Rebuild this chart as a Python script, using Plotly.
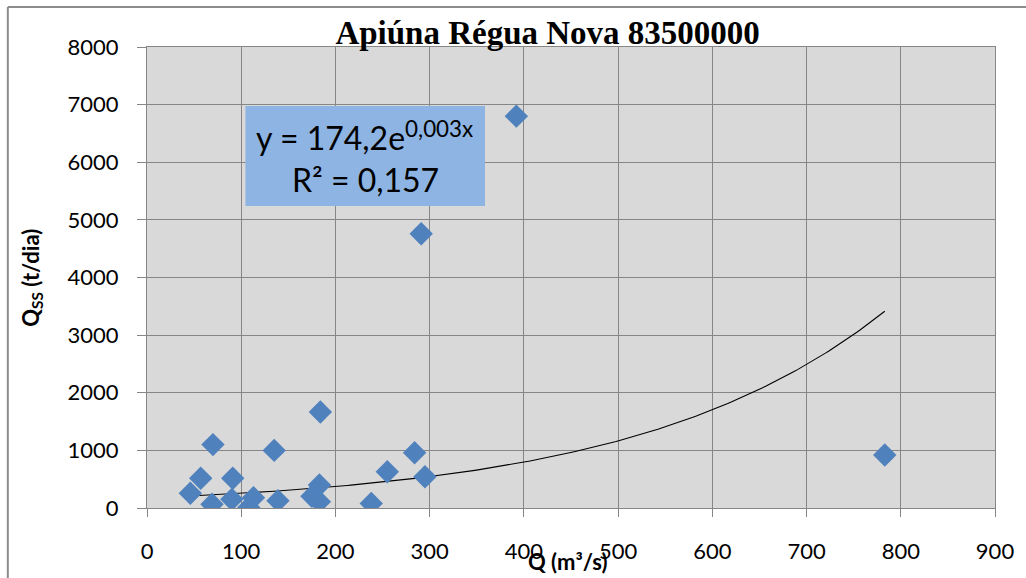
import numpy as np
import plotly.graph_objects as go

# Vazão líquida Q (m³/s) e descarga sólida em suspensão Qss (t/dia)
vazao = [46, 57, 70, 69, 91, 90, 135, 113, 108, 139, 184, 183, 175, 183,
         238, 255, 284, 295, 291, 392, 783]
qss = [255, 515, 1100, 64, 515, 150, 1000, 180, 10, 127, 1665, 400, 205, 110,
       80, 630, 960, 543, 4760, 6800, 920]

# Linha de tendência exponencial y = a·e^(b·x)
TREND_A = 174.2
TREND_B = 0.0038

x_ticks = [0, 100, 200, 300, 400, 500, 600, 700, 800, 900]
y_ticks = [0, 1000, 2000, 3000, 4000, 5000, 6000, 7000, 8000]

titulo = "Apiúna Régua Nova 83500000"
eq_linha1 = "y = 174,2e<sup>0,003x</sup>"
eq_linha2 = "R² = 0,157"

W, H = 1026, 578
ML, MR, MT, MB = 147, 26, 47, 70
PW, PH = W - ML - MR, H - MT - MB


def px(x):
    return (x - ML) / PW


def py(y):
    return (H - MB - y) / PH


xt = np.linspace(min(vazao), max(vazao), 200)
yt = TREND_A * np.exp(TREND_B * xt)

fig = go.Figure()
fig.add_trace(go.Scatter(
    x=xt, y=yt, mode="lines",
    line=dict(color="black", width=1.1),
    hoverinfo="skip", showlegend=False,
))
fig.add_trace(go.Scatter(
    x=vazao, y=qss, mode="markers",
    marker=dict(symbol="diamond", size=18, color="#4F81BD"),
    showlegend=False,
))

grid = "#868686"
tick_font = dict(family="Lato, Liberation Sans, sans-serif", size=22, color="black")

fig.update_layout(
    width=W, height=H,
    margin=dict(l=ML, r=MR, t=MT, b=MB),
    paper_bgcolor="white",
    plot_bgcolor="#D9D9D9",
    title=dict(
        text=f"<b>{titulo}</b>",
        x=px(550), xanchor="center", xref="paper",
        y=1 - 32 / H, yanchor="middle", yref="container",
        font=dict(family="Liberation Serif, Times New Roman, serif", size=33, color="black"),
    ),
    xaxis=dict(
        range=[0, 900], tickvals=x_ticks, ticktext=[str(v) for v in x_ticks],
        showgrid=True, gridcolor=grid, gridwidth=1,
        showline=True, linecolor=grid, linewidth=1, mirror=True,
        ticks="outside", ticklen=8, tickcolor=grid,
        ticklabelstandoff=16,
        tickfont=tick_font, zeroline=False,
    ),
    yaxis=dict(
        range=[0, 8000], tickvals=y_ticks, ticktext=[str(v) for v in y_ticks],
        showgrid=True, gridcolor=grid, gridwidth=1,
        showline=True, linecolor=grid, linewidth=1, mirror=True,
        ticks="outside", ticklen=9, tickcolor=grid,
        ticklabelstandoff=14,
        tickfont=tick_font, zeroline=False,
    ),
    shapes=[
        # caixa da equação
        dict(type="rect", xref="paper", yref="paper",
             x0=px(246), x1=px(487), y0=py(206), y1=py(106),
             fillcolor="#8DB4E2", line=dict(width=0), layer="above"),
        # moldura do gráfico
        dict(type="line", xref="paper", yref="paper",
             x0=px(7), x1=px(1040), y0=py(7), y1=py(7),
             line=dict(color="#8C8C8C", width=2)),
        dict(type="line", xref="paper", yref="paper",
             x0=px(7), x1=px(7), y0=py(7), y1=py(600),
             line=dict(color="#8C8C8C", width=2)),
    ],
    annotations=[
        dict(text=eq_linha1, xref="paper", yref="paper",
             x=px(366), y=py(136), xanchor="center", yanchor="middle",
             showarrow=False,
             font=dict(family="Lato, sans-serif", size=32, color="black")),
        dict(text=eq_linha2, xref="paper", yref="paper",
             x=px(367), y=py(179), xanchor="center", yanchor="middle",
             showarrow=False,
             font=dict(family="Lato, sans-serif", size=32, color="black")),
        dict(text="<b>Q (m³/s)</b>", xref="paper", yref="paper",
             x=px(570), y=py(561), xanchor="center", yanchor="middle",
             showarrow=False,
             font=dict(family="Lato, sans-serif", size=22, color="black")),
        dict(text="<b>Q<sub>SS</sub> (t/dia)</b>", xref="paper", yref="paper",
             x=px(31), y=py(278), xanchor="center", yanchor="middle",
             textangle=-90, showarrow=False,
             font=dict(family="Lato, sans-serif", size=22, color="black")),
    ],
)

fig.write_html("out.html")
